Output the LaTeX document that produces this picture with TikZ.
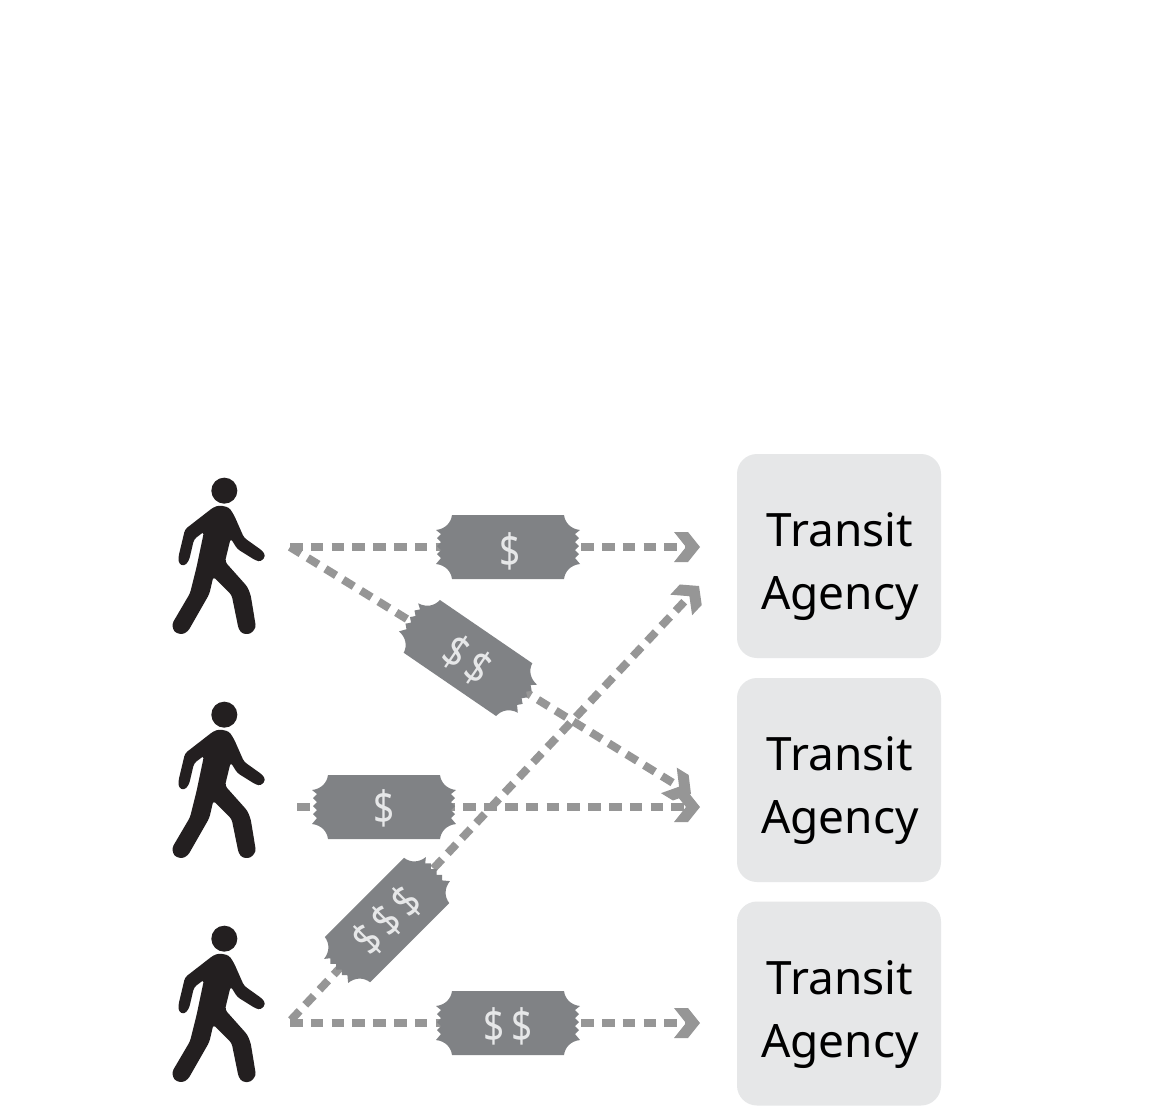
\documentclass[tikz,border=0pt]{standalone}
\usepackage{fontspec}
\setmainfont{Noto Sans}
\usetikzlibrary{arrows.meta}
\definecolor{ticketgray}{HTML}{808285}
\definecolor{flowgray}{HTML}{969696}
\definecolor{boxgray}{HTML}{E6E7E8}
\definecolor{figblack}{HTML}{231F20}
\pgfdeclarearrow{
  name=Chevron,
  setup code={\pgfarrowssettipend{0pt}\pgfarrowssetlineend{-12pt}\pgfarrowssetbackend{-26pt}\pgfarrowssetvisualbackend{-14pt}\pgfarrowshullpoint{0pt}{0pt}\pgfarrowshullpoint{-26pt}{15pt}\pgfarrowshullpoint{-26pt}{-15pt}},
  drawing code={
    \pgfpathmoveto{\pgfpoint{0pt}{0pt}}
    \pgfpathlineto{\pgfpoint{-12pt}{15pt}}
    \pgfpathlineto{\pgfpoint{-26pt}{15pt}}
    \pgfpathlineto{\pgfpoint{-14pt}{0pt}}
    \pgfpathlineto{\pgfpoint{-26pt}{-15pt}}
    \pgfpathlineto{\pgfpoint{-12pt}{-15pt}}
    \pgfpathclose
    \pgfsetfillcolor{flowgray}
    \pgfusepathqfill
  }
}
\tikzset{
  agency/.style={fill=boxgray,rounded corners=20pt,minimum width=204pt,minimum height=204pt,inner sep=0pt},
  agencylabel/.style={align=center,text=black,inner sep=0pt,font=\fontsize{46}{63}\selectfont},
  flow/.style={draw=flowgray,line width=8pt,dash pattern=on 12.5pt off 8.3pt,-{Chevron}},
  ticketlabel/.style={text=boxgray,inner sep=0pt,xscale=0.8,font=\fontsize{46}{50}\selectfont},
  figfill/.style={fill=figblack,rounded corners=3pt},
}
\newcommand{\dd}{\kern7.5pt}
\newcommand{\ticketshape}[2]{%
  \begin{scope}[shift={(#1)},rotate=#2]
    \fill[ticketgray] (-56,-32) -- (56,-32)
      .. controls (57,-24) and (63,-18) .. (72,-17)
      -- (67,-13) -- (71,-9) -- (67,-5) -- (71,-1) -- (67,3) -- (71,7) -- (67,11) -- (72,17)
      .. controls (63,18) and (57,24) .. (56,32)
      -- (-56,32)
      .. controls (-57,24) and (-63,18) .. (-72,17)
      -- (-67,11) -- (-71,7) -- (-67,3) -- (-71,-1) -- (-67,-5) -- (-71,-9) -- (-67,-13) -- (-72,-17)
      .. controls (-63,-18) and (-57,-24) .. (-56,-32) -- cycle;
  \end{scope}}
\newcommand{\walker}[1]{%
  \begin{scope}[shift={(160,#1)},x=0.3333pt,y=-0.3333pt]
    \fill[figblack] (193,62) circle (39);
    \fill[figfill] (160,112) -- (178,106) -- (207,112) -- (222,135) -- (252,203) -- (308,243)
      -- (317,258) -- (303,275) -- (288,272) -- (232,237) -- (212,205) -- (195,275)
      -- (262,350) -- (272,375) -- (288,472) -- (272,492) -- (248,492) -- (236,478)
      -- (215,375) -- (160,320) -- (148,372) -- (84,484) -- (66,494) -- (42,486)
      -- (36,462) -- (90,370) -- (110,290) -- (132,185) -- (102,208) -- (87,272)
      -- (72,289) -- (56,280) -- (55,262) -- (75,178) -- cycle;
  \end{scope}}
\begin{document}
\begin{tikzpicture}[x=1pt,y=-1pt]
\useasboundingbox (0,0) rectangle (1155,1114);
\fill[white] (0,0) rectangle (1155,1114);
\node[agency] (a1) at (839,556) {};
\node[agency] (a2) at (839,780) {};
\node[agency] (a3) at (839,1003.5) {};
\node[agencylabel] (l1) at ([xshift=1pt,yshift=-11pt]a1.center) {Transit\\Agency};
\node[agencylabel] (l2) at ([xshift=1pt,yshift=-11pt]a2.center) {Transit\\Agency};
\node[agencylabel] (l3) at ([xshift=1pt,yshift=-11pt]a3.center) {Transit\\Agency};
\walker{470}
\walker{694}
\walker{918}
\coordinate (s1) at (290,547);
\coordinate (s2) at (297,807);
\coordinate (s3) at (290,1023);
\coordinate (s4) at (291,1020);
\coordinate (e1) at (700,547);
\coordinate (e2) at (700,807);
\coordinate (e2b) at (691,794);
\coordinate (e1b) at (699,586);
\coordinate (e3) at (700,1023);
\draw[flow] (s1) -- (e1);
\draw[flow] (s1) -- (e2b);
\draw[flow] (s2) -- (e2);
\draw[flow] (s4) -- (e1b);
\draw[flow] (s3) -- (e3);
\ticketshape{508,547}{0}
\ticketshape{384,807}{0}
\ticketshape{508,1023}{0}
\ticketshape{468,658}{-34.4}
\ticketshape{387,920}{45}
\node[ticketlabel] (t1) at (510,551) {\$};
\node[ticketlabel] (t2) at (384,808) {\$};
\node[ticketlabel] (t3) at (508,1026) {\$\dd\$};
\node[rotate=-34.4,ticketlabel] (t4) at (467,660) {\$\dd\$};
\node[rotate=45,ticketlabel] (t5) at (387,921) {\$\dd\$\dd\$};
\end{tikzpicture}
\end{document}
